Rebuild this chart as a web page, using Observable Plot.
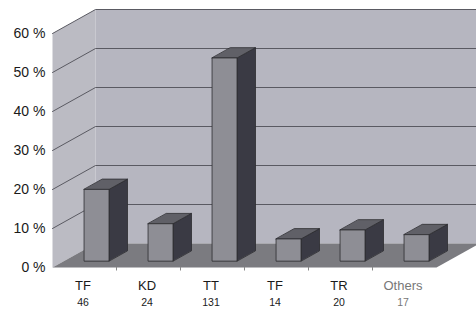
<!DOCTYPE html>
<html>
<head>
<meta charset="utf-8">
<script src="https://cdn.jsdelivr.net/npm/d3@7"></script>
<script src="https://cdn.jsdelivr.net/npm/@observablehq/plot@0.6"></script>
<style>
  html, body { margin: 0; padding: 0; background: #fff; }
  svg { overflow: hidden !important; display: block; }
</style>
</head>
<body>
<div id="chart"></div>
<script>
// ---- data ----
const categories = ["TF", "KD", "TT", "TF", "TR", "Others"];
const counts = [46, 24, 131, 14, 20, 17];
const percents = [18.3, 9.5, 52.0, 5.6, 7.9, 6.7];
const yTicks = [0, 10, 20, 30, 40, 50, 60];

// ---- 3D projection (depth offset in data units) ----
const DX = 43 / 64;     // depth along x (category units)
const DY = 24 / 3.9;    // depth along y (percent units)
const YMAX = 60;
const XEND = 7;
const F0 = 0.28, F1 = 0.71, HW = 0.195;

const rows = categories.map((c, i) => ({i, name: c, count: counts[i], pct: percents[i]}));

function poly(id, pts) { return pts.map(([x, y]) => ({id, x, y})); }

const leftWall = poly("lw", [[0, 0], [0, YMAX], [DX, YMAX + DY], [DX, DY]]);
const backWall = poly("bw", [[DX, DY], [DX, YMAX + DY], [XEND, YMAX + DY], [XEND, DY]]);
const floor = poly("fl", [[0, 0], [6, 0], [6 + DX, DY], [DX, DY]]);

const grid = yTicks.filter(t => t > 0).flatMap(t => [
  {id: "g" + t, x: 0, y: t}, {id: "g" + t, x: DX, y: t + DY}, {id: "g" + t, x: XEND, y: t + DY}
]);

const fronts = [], tops = [], sides = [];
rows.forEach(r => {
  const c = r.i + 0.5, v = r.pct;
  const xl0 = c - HW + F0 * DX, xr0 = c + HW + F0 * DX;
  const xl1 = c - HW + F1 * DX, xr1 = c + HW + F1 * DX;
  const y0 = F0 * DY, y1 = F1 * DY;
  fronts.push(...poly("f" + r.i, [[xl0, y0], [xl0, v + y0], [xr0, v + y0], [xr0, y0]]));
  tops.push(...poly("t" + r.i, [[xl0, v + y0], [xr0, v + y0], [xr1, v + y1], [xl1, v + y1]]));
  sides.push(...poly("s" + r.i, [[xr0, y0], [xr0, v + y0], [xr1, v + y1], [xr1, y1]]));
});

const face = (data, fill, stroke = "#2c2c30") =>
  Plot.line(data, {x: "x", y: "y", z: "id", fill, stroke, strokeWidth: 0.8, curve: "linear-closed"});

const chart = Plot.plot({
  width: 476,
  height: 309,
  marginLeft: 52,
  marginRight: 40,
  marginTop: 33,
  marginBottom: 42,
  style: {fontFamily: "'Liberation Sans', Arial, sans-serif", background: "#fff", color: "#222"},
  x: {domain: [0, 6], range: [52, 436], axis: null, label: null},
  y: {domain: [0, 60], range: [267, 33], axis: null, label: null},
  marks: [
    face(leftWall, "#bbbbc3", "none"),
    face(backWall, "#b6b6c0", "none"),
    Plot.line(grid, {x: "x", y: "y", z: "id", stroke: "#5a5a62", strokeWidth: 1}),
    face(floor, "#7b7b80", "none"),
    face(sides, "#3a3a44"),
    face(tops, "#606067"),
    face(fronts, "#8e8e95"),
    Plot.ruleX([1, 2, 3, 4, 5], {x: d => d, y1: 0, y2: -0.9, stroke: "#888", strokeWidth: 1}),
    Plot.axisY({ticks: yTicks, tickFormat: d => d + " %", tickSize: 0, tickPadding: 7, fontSize: 14, anchor: "left", fill: "#1a1a1a", label: null}),
    Plot.text(rows, {x: d => d.i + 0.5, y: 0, text: "name", dy: 18, dx: -1.5, fontSize: 13,
      fill: d => d.name === "Others" ? "#777" : "#1a1a1a"}),
    Plot.text(rows, {x: d => d.i + 0.5, y: 0, text: d => String(d.count), dy: 35, dx: -1.5, fontSize: 10.5,
      fill: d => d.name === "Others" ? "#777" : "#1a1a1a"})
  ]
});
document.getElementById("chart").appendChild(chart);
</script>
</body>
</html>
